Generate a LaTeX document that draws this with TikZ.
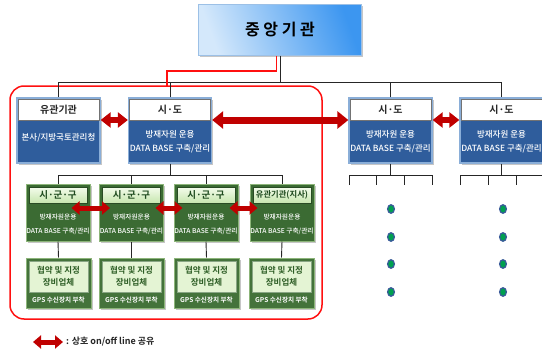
\documentclass[tikz,border=0pt]{standalone}
\usepackage{fontspec}
\setmainfont{Noto Sans CJK KR}[BoldFont={Noto Sans CJK KR Bold}]
\newfontfamily\medfont{Noto Sans CJK KR Medium}
\usetikzlibrary{arrows.meta,shadows,calc}
\definecolor{topA}{HTML}{D4E8FB}
\definecolor{topB}{HTML}{3C96F0}
\definecolor{topbd}{HTML}{9CC0E6}
\definecolor{lonefill}{HTML}{2F5D9C}
\definecolor{lonebd}{HTML}{8AAED8}
\definecolor{ltwofill}{HTML}{3B6B33}
\definecolor{ltwobd}{HTML}{8DB57A}
\definecolor{hdA}{HTML}{F4FCEC}
\definecolor{hdB}{HTML}{C6E6AE}
\definecolor{hdtxt}{HTML}{1E4A1E}
\definecolor{lthfill}{HTML}{44733B}
\definecolor{lthpanel}{HTML}{E4F4D4}
\definecolor{lthtxt}{HTML}{2E5E26}
\definecolor{arrred}{HTML}{C00000}
\definecolor{frred}{HTML}{FF1010}
\definecolor{dotgreen}{HTML}{00A050}
\definecolor{dotblue}{HTML}{3A5A9A}
\begin{document}
\begin{tikzpicture}[x=1pt,y=-1pt,
  shd/.style={drop shadow={shadow xshift=1.5pt,shadow yshift=-1.5pt,opacity=0.45}},
  topbox/.style={rectangle,draw=topbd,line width=1pt,left color=topA,right color=topB,shading angle=110,
     minimum width=163pt,minimum height=51pt,inner sep=0pt,shd,font=\fontsize{16}{18}\selectfont\bfseries},
  lonebox/.style={rectangle,draw=lonebd,line width=1.3pt,fill=lonefill,minimum width=83pt,minimum height=65pt,inner sep=0pt,shd},
  lonehead/.style={rectangle,draw=black!55,line width=0.4pt,fill=white,minimum width=81pt,minimum height=21pt,inner sep=0pt,
     font=\fontsize{10}{11}\selectfont\bfseries,text=black!85},
  lonetxt/.style={align=center,text=white,inner sep=0pt,font=\fontsize{8.5}{14}\selectfont\medfont},
  ltwobox/.style={rectangle,draw=ltwobd,line width=1pt,fill=ltwofill,minimum width=64pt,minimum height=57pt,inner sep=0pt,shd},
  ltwohead/.style={rectangle,draw=ltwofill!70!black,line width=0.4pt,top color=hdA,bottom color=hdB,minimum width=58pt,minimum height=16pt,
     inner sep=0pt,text=hdtxt,font=\fontsize{9.5}{10}\selectfont\bfseries},
  ltwotxt/.style={align=center,text=white,inner sep=0pt,font=\fontsize{6.7}{14}\selectfont\medfont},
  lthbox/.style={rectangle,draw=ltwobd,line width=1pt,fill=lthfill,minimum width=65pt,minimum height=50pt,inner sep=0pt,shd},
  lthpan/.style={rectangle,draw=ltwofill!60,line width=0.4pt,fill=lthpanel,minimum width=59pt,minimum height=31pt,inner sep=0pt,
     align=center,text=lthtxt,font=\fontsize{8.5}{12}\selectfont\bfseries},
  lthgps/.style={inner sep=0pt,text=white,font=\fontsize{6.6}{7}\selectfont\bfseries},
  tree/.style={draw=black!85,line width=0.9pt},
  redline/.style={draw=frred,line width=1.5pt},
  frame/.style={draw=frred,line width=1.5pt,rounded corners=14pt},
  bigarr/.style={draw=arrred,line width=7pt,{Triangle[length=11pt,width=17pt]}-{Triangle[length=11pt,width=17pt]}},
  midarr/.style={draw=arrred,line width=6pt,{Triangle[length=10pt,width=15pt]}-{Triangle[length=10pt,width=15pt]}},
  smallarr/.style={draw=arrred,line width=5pt,{Triangle[length=8pt,width=13pt]}-{Triangle[length=8pt,width=13pt]}},
  dotst/.style={draw=dotblue,fill=dotgreen,line width=1.2pt}
]
\useasboundingbox (0,0) rectangle (542,351);

% red frame
\draw[frame] (10,86) rectangle (322,319);

% top
\node[topbox] (top) at (280,29.5) {중 앙 기 관};

% level 1 boxes
\node[lonebox] (yg)  at (58.5,130.5) {};
\node[lonebox] (sd1) at (170,130.5) {};
\node[lonebox] (sd2) at (390.5,130.5) {};
\node[lonebox] (sd3) at (501.5,130.5) {};
\node[lonehead] (ygh)  at (58.5,109.5) {유관기관};
\node[lonehead] (sd1h) at (170,109.5) {시·도};
\node[lonehead] (sd2h) at (390.5,109.5) {시·도};
\node[lonehead] (sd3h) at (501.5,109.5) {시·도};
\node[lonetxt] (ygt)  at (58.5,138) {본사/지방국토관리청};
\node[lonetxt] (sd1t) at (170,141.5) {방재자원 운용\\DATA BASE 구축/관리};
\node[lonetxt] (sd2t) at (390.5,141.5) {방재자원 운용\\DATA BASE 구축/관리};
\node[lonetxt] (sd3t) at (501.5,141.5) {방재자원 운용\\DATA BASE 구축/관리};

% top tree
\coordinate (bus1) at (280,82);
\draw[tree] (top.south) -- (bus1);
\draw[tree] (yg.north) |- (sd3.north |- bus1) -- (sd3.north);
\draw[tree] (sd1.north) -- (sd1.north |- bus1);
\draw[tree] (sd2.north) -- (sd2.north |- bus1);

% red link from top to frame
\coordinate (rj) at (167,71);
\coordinate (fr) at (167,86);
\draw[redline] ([xshift=-3.5pt]top.south) |- (rj) -- (fr);

% level 2
\node[ltwobox] (k1) at (58,212.5) {};
\node[ltwobox] (k2) at (131.5,212.5) {};
\node[ltwobox] (k3) at (206,212.5) {};
\node[ltwobox] (k4) at (282,212.5) {};
\node[ltwohead] (k1h) at (58,195) {시·군·구};
\node[ltwohead] (k2h) at (131.5,195) {시·군·구};
\node[ltwohead] (k3h) at (206,195) {시·군·구};
\node[ltwohead,font=\fontsize{8.3}{10}\selectfont\bfseries] (k4h) at (282,195) {유관기관(지사)};
\node[ltwotxt] (k1t) at (58,224.5) {방재자원운용\\DATA BASE 구축/관리};
\node[ltwotxt] (k2t) at (131.5,224.5) {방재자원운용\\DATA BASE 구축/관리};
\node[ltwotxt] (k3t) at (206,224.5) {방재자원운용\\DATA BASE 구축/관리};
\node[ltwotxt] (k4t) at (282,224.5) {방재자원운용\\DATA BASE 구축/관리};

\coordinate (bus2) at (170,175);
\draw[tree] (sd1.south) -- (bus2);
\draw[tree] (k1.north) |- (k4.north |- bus2) -- (k4.north);
\draw[tree] (k2.north) -- (k2.north |- bus2);
\draw[tree] (k3.north) -- (k3.north |- bus2);

% level 3
\node[lthbox] (m1) at (58.5,283) {};
\node[lthbox] (m2) at (131.5,283) {};
\node[lthbox] (m3) at (206.5,283) {};
\node[lthbox] (m4) at (281.5,283) {};
\node[lthpan] (m1p) at (58.5,276.5) {협약 및 지정\\장비업체};
\node[lthpan] (m2p) at (131.5,276.5) {협약 및 지정\\장비업체};
\node[lthpan] (m3p) at (206.5,276.5) {협약 및 지정\\장비업체};
\node[lthpan] (m4p) at (281.5,276.5) {협약 및 지정\\장비업체};
\node[lthgps] (m1g) at (58.5,300) {GPS 수신장치 부착};
\node[lthgps] (m2g) at (131.5,300) {GPS 수신장치 부착};
\node[lthgps] (m3g) at (206.5,300) {GPS 수신장치 부착};
\node[lthgps] (m4g) at (281.5,300) {GPS 수신장치 부착};
\draw[tree] (k1.south) -- (m1.north);
\draw[tree] (k2.south) -- (m2.north);
\draw[tree] (k3.south) -- (m3.north);
\draw[tree] (k4.south) -- (m4.north);

% right sub-trees
\coordinate (bus3) at (390.5,175);
\draw[tree] (sd2.south) -- (bus3);
\draw[tree] (349,185) -- (349,175) -- (432,175) -- (432,185);
\draw[tree] (376,175) -- (376,185);
\draw[tree] (404,175) -- (404,185);
\coordinate (bus4) at (501.5,175);
\draw[tree] (sd3.south) -- (bus4);
\draw[tree] (460,185) -- (460,175) -- (542,175);
\draw[tree] (488,175) -- (488,185);
\draw[tree] (516,175) -- (516,185);

% dots
\foreach \yy in {209,237,264,292}{
  \draw[dotst] (391,\yy) ellipse [x radius=3.4pt, y radius=4.3pt];
  \draw[dotst] (503,\yy) ellipse [x radius=3.4pt, y radius=4.3pt];
}

% red double arrows
\draw[midarr] ([yshift=10.5pt]yg.east) -- ([yshift=10.5pt]sd1.west);
\draw[bigarr] ([yshift=10.5pt]sd1.east) -- ([yshift=10.5pt]sd2.west);
\draw[midarr] ([yshift=10.5pt]sd2.east) -- ([yshift=10.5pt]sd3.west);
\draw[smallarr] ([xshift=-19pt,yshift=4.5pt]k1.east) -- ([xshift=11pt,yshift=4.5pt]k2.west);
\draw[smallarr] ([xshift=-8.5pt,yshift=4.5pt]k2.east) -- ([xshift=9pt,yshift=4.5pt]k3.west);
\draw[smallarr] ([xshift=-9pt,yshift=4.5pt]k3.east) -- ([xshift=8pt,yshift=4.5pt]k4.west);

% legend
\coordinate (lgA) at (33,342);
\coordinate (lgB) at (63,342);
\draw[smallarr] (lgA) -- (lgB);
\node[anchor=west,inner sep=0pt,font=\fontsize{9}{10}\selectfont\bfseries,text=black!85] (lgT) at (66,342) {: 상호 on/off line 공유};
\end{tikzpicture}
\end{document}
